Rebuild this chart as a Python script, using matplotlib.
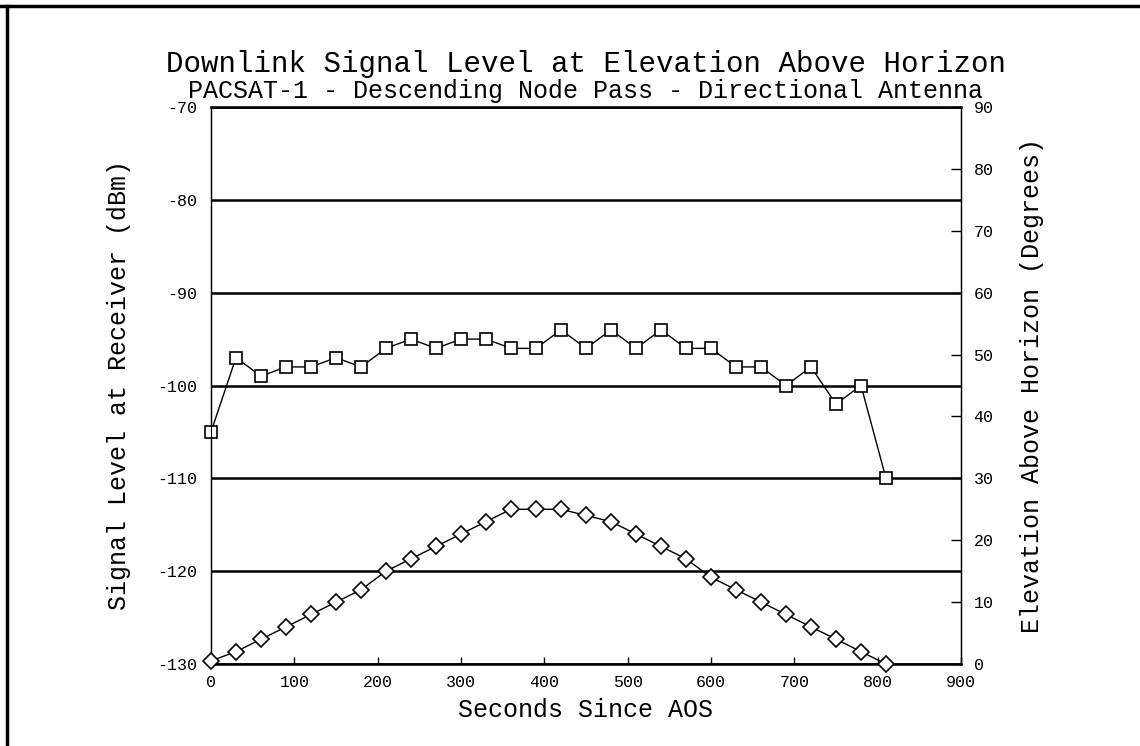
import matplotlib.pyplot as plt
from matplotlib.lines import Line2D

# seconds since AOS, one sample every 30 s
seconds = [0, 30, 60, 90, 120, 150, 180, 210, 240, 270, 300, 330, 360, 390,
           420, 450, 480, 510, 540, 570, 600, 630, 660, 690, 720, 750, 780, 810]

# downlink level (dBm)
signal_dbm = [-105, -97, -99, -98, -98, -97, -98, -96, -95, -96, -95, -95, -96, -96,
              -94, -96, -94, -96, -94, -96, -96, -98, -98, -100, -98, -102, -100, -110]

# elevation (degrees)
elevation = [0.5, 2, 4, 6, 8, 10, 12, 15, 17, 19, 21, 23, 25, 25,
             25, 24, 23, 21, 19, 17, 14, 12, 10, 8, 6, 4, 2, 0]

left_ticks = [-70, -80, -90, -100, -110, -120, -130]
right_ticks = [0, 10, 20, 30, 40, 50, 60, 70, 80, 90]
x_ticks = [0, 100, 200, 300, 400, 500, 600, 700, 800, 900]

plt.rcParams['font.family'] = ['Liberation Mono', 'DejaVu Sans Mono']

fig = plt.figure(figsize=(11.4, 7.46), dpi=100)
ax = fig.add_axes([211 / 1140, 1 - 664 / 746, 750 / 1140, 557 / 746])
ax2 = ax.twinx()

# signal level on the left axis
ax.plot(seconds, signal_dbm, color='black', lw=1, marker='s', ms=9,
        mfc='white', mec='black', mew=1.2, zorder=5, clip_on=False)
ax.set_xlim(0, 900)
ax.set_ylim(-130, -70)
ax.set_yticks(left_ticks)
ax.set_yticklabels([str(v) for v in left_ticks])
ax.set_xticks(x_ticks)
ax.grid(axis='y', color='black', lw=1.8)
ax.tick_params(axis='y', length=0, pad=10, labelsize=12)
ax.tick_params(axis='x', direction='in', length=5, width=1, pad=8, labelsize=12)
for s in ['top', 'bottom']:
    ax.spines[s].set_linewidth(1.8)
for s in ['left', 'right']:
    ax.spines[s].set_linewidth(1)

# elevation on the right axis
ax2.plot(seconds, elevation, color='black', lw=1, marker='D', ms=8,
         mfc='white', mec='black', mew=1.2, zorder=5, clip_on=False)
ax2.set_ylim(0, 90)
ax2.set_yticks(right_ticks)
ax2.tick_params(axis='y', direction='in', length=7, width=1, pad=9, labelsize=12)

ax.set_xlabel('Seconds Since AOS', fontsize=18, labelpad=6)
ax.set_ylabel('Signal Level at Receiver (dBm)', fontsize=18, labelpad=19)
ax2.set_ylabel('Elevation Above Horizon (Degrees)', fontsize=18, labelpad=19)

fig.text(586 / 1140, 1 - 64 / 746, 'Downlink Signal Level at Elevation Above Horizon',
         ha='center', va='center', fontsize=21)
fig.text(586 / 1140, 1 - 91 / 746, 'PACSAT-1 - Descending Node Pass - Directional Antenna',
         ha='center', va='center', fontsize=18)

# scanned page frame (top and left edge)
fig.add_artist(Line2D([0, 1], [1 - 6 / 746, 1 - 6 / 746], transform=fig.transFigure,
                      color='black', lw=2.5))
fig.add_artist(Line2D([7 / 1140, 7 / 1140], [0, 1 - 6 / 746], transform=fig.transFigure,
                      color='black', lw=2.5))

fig.savefig('out.png', dpi=100)
